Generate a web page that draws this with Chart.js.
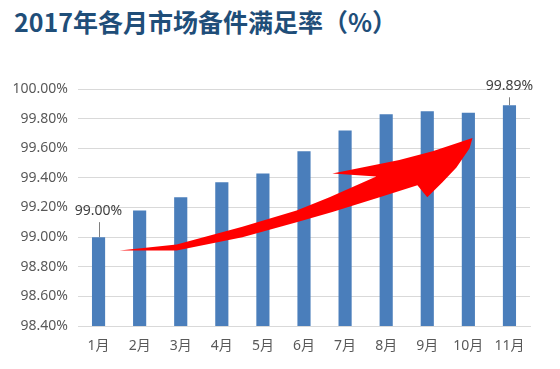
<!DOCTYPE html>
<html>
<head>
<meta charset="utf-8">
<script src="https://cdn.jsdelivr.net/npm/chart.js@4.4.1/dist/chart.umd.min.js"></script>
<style>
  html,body{margin:0;padding:0;background:#fff}
  #wrap{position:relative;width:560px;height:369px}
  #ttl{position:absolute;left:14px;top:6px;font:bold 25px/30px 'Noto Sans CJK SC','Noto Sans',sans-serif;color:#1F4E79;white-space:nowrap}
  canvas{position:absolute;left:0;top:0}
</style>
</head>
<body>
<div id="wrap">
  <div id="ttl">2017年各月市场备件满足率（%）</div>
  <canvas id="c" width="560" height="369"></canvas>
</div>
<script>
// 2017 monthly spare-parts fill rate
const months  = ['1月','2月','3月','4月','5月','6月','7月','8月','9月','10月','11月'];
const rates   = [99.00, 99.18, 99.27, 99.37, 99.43, 99.58, 99.72, 99.83, 99.85, 99.84, 99.89];
const yTicks  = [98.4, 98.6, 98.8, 99.0, 99.2, 99.4, 99.6, 99.8, 100.0];
const labeled = [0, 10];      // bars that carry a value label
const lift    = [26, 19];     // label distance above bar top

// red trend arrow outline, in (category index, value) units
const arrowX = [0.51,1.90,3.50,4.82,5.62,6.76,5.69,7.32,8.13,9.10,9.03,8.71,8.37,8.00,7.76,6.84,5.69,4.82,3.50,1.90];
const arrowY = [98.91,98.95,99.07,99.18,99.27,99.41,99.43,99.52,99.58,99.67,99.60,99.47,99.37,99.27,99.35,99.27,99.17,99.10,99.00,98.91];

const FONT = "'Noto Sans','Noto Sans CJK SC',sans-serif";

const arrowPlugin = {
  id:'arrow',
  afterDatasetsDraw(chart){
    const {ctx, scales:{x,y}} = chart;
    ctx.save();
    ctx.beginPath();
    arrowX.forEach((v,i)=>{
      const px = x.getPixelForValue(v), py = y.getPixelForValue(arrowY[i]);
      if(i===0) ctx.moveTo(px,py); else ctx.lineTo(px,py);
    });
    ctx.closePath();
    ctx.fillStyle = '#FF0000';
    ctx.fill();
    ctx.restore();
  }
};

const labelPlugin = {
  id:'vlabels',
  afterDatasetsDraw(chart){
    const {ctx} = chart;
    const meta = chart.getDatasetMeta(0);
    ctx.save();
    ctx.font = '14px '+FONT;
    ctx.fillStyle = '#404040';
    ctx.textAlign = 'center';
    ctx.textBaseline = 'middle';
    labeled.forEach((idx,k)=>{
      const bar = meta.data[idx];
      const cy = bar.y - lift[k];
      ctx.strokeStyle = '#7f7f7f';
      ctx.lineWidth = 1;
      ctx.beginPath();
      ctx.moveTo(Math.round(bar.x)+0.5, bar.y);
      ctx.lineTo(Math.round(bar.x)+0.5, cy+11);
      ctx.stroke();
      ctx.fillText(rates[idx].toFixed(2)+'%', bar.x, cy);
    });
    ctx.restore();
  }
};

new Chart(document.getElementById('c'), {
  type:'bar',
  data:{
    labels:months,
    datasets:[{
      data:rates,
      backgroundColor:'#4A7EBB',
      barPercentage:0.32,
      categoryPercentage:1
    }]
  },
  options:{
    responsive:false,
    animation:false,
    layout:{padding:{top:89,right:30,left:0,bottom:0}},
    plugins:{legend:{display:false},tooltip:{enabled:false},title:{display:false}},
    scales:{
      x:{
        grid:{display:false,drawTicks:false},
        border:{color:'#d9d9d9'},
        ticks:{color:'#595959',font:{size:14,family:FONT},padding:12},
        afterFit:s=>{s.height=43;}
      },
      y:{
        min:98.4, max:100,
        afterBuildTicks:s=>{s.ticks=yTicks.map(v=>({value:v}));},
        grid:{color:'#d9d9d9',drawTicks:false},
        border:{display:false},
        ticks:{color:'#595959',font:{size:14,family:FONT},padding:10,callback:v=>v.toFixed(2)+'%'},
        afterFit:s=>{s.width=78;}
      }
    }
  },
  plugins:[arrowPlugin,labelPlugin]
});
</script>
</body>
</html>
